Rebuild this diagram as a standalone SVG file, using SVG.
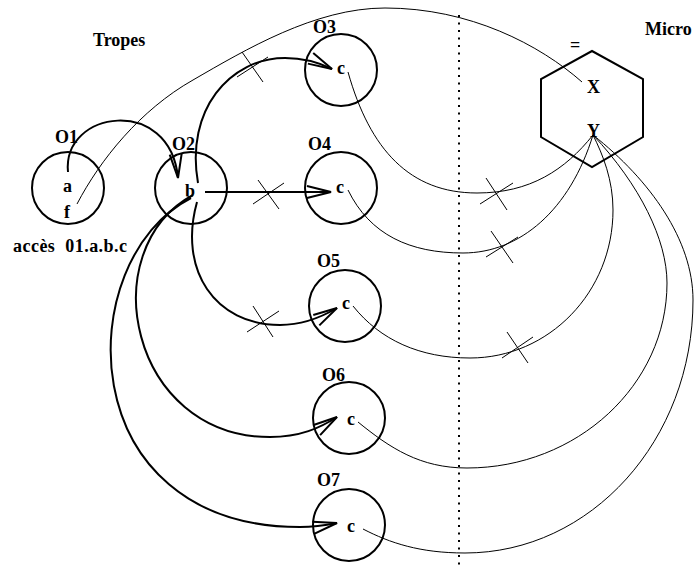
<svg xmlns="http://www.w3.org/2000/svg" width="694" height="567" viewBox="0 0 694 567">
<style>
text{font-family:"Liberation Serif","Times New Roman",serif;font-weight:bold;font-size:18px;fill:#000;white-space:pre}
.node{fill:none;stroke:#000;stroke-width:2}
.thick{fill:none;stroke:#000;stroke-width:2}
.thin{fill:none;stroke:#000;stroke-width:1}
.cross{fill:none;stroke:#000;stroke-width:1}
</style>
<defs>
<marker id="arr" markerUnits="userSpaceOnUse" viewBox="-28 -9 30 18" markerWidth="30" markerHeight="18" refX="0" refY="0" orient="auto">
<path d="M-24,-6 L0,0 L-24,6" fill="none" stroke="#000" stroke-width="2"/>
</marker>
</defs>
<rect width="694" height="567" fill="#fff"/>
<g id="labels">
<text x="93" y="46">Tropes</text>
<text x="645" y="35">Micro</text>
<text x="13" y="252" textLength="114">accès  01.a.b.c</text>
</g>
<g id="divider">
<line x1="459" y1="15" x2="459" y2="567" stroke="#000" stroke-width="2" stroke-dasharray="2 5.5"/>
</g>
<g id="O1"><circle class="node" cx="68" cy="188" r="36"/><text x="55" y="143">O1</text><text x="63" y="192">a</text><text x="64" y="218">f</text></g>
<g id="O2"><circle class="node" cx="191" cy="188" r="36"/><text x="172" y="150">O2</text><text x="185" y="197">b</text></g>
<g id="O3"><circle class="node" cx="341" cy="70" r="36"/><text x="313" y="33">O3</text><text x="337" y="74">c</text></g>
<g id="O4"><circle class="node" cx="341" cy="188" r="36"/><text x="308" y="150">O4</text><text x="336" y="193">c</text></g>
<g id="O5"><circle class="node" cx="345" cy="306" r="36"/><text x="317" y="267">O5</text><text x="342" y="309">c</text></g>
<g id="O6"><circle class="node" cx="349" cy="418" r="36"/><text x="322" y="381">O6</text><text x="347" y="425">c</text></g>
<g id="O7"><circle class="node" cx="349" cy="525" r="36"/><text x="317" y="486">O7</text><text x="347" y="532">c</text></g>
<g id="Micro">
<polygon class="node" points="592,51 643,79 643,137 592,167 541,137 541,79"/>
<text x="570" y="51">=</text>
<text x="587" y="93">X</text>
<text x="587" y="137">Y</text>
</g>
<g id="connectors">
<path class="thin" d="M77,204 C100,160 140,110 193,80 C245,50 315,8 385,8 C470,8 540,45 582,82"/>
<path class="thick" marker-end="url(#arr)" d="M68,172 C62,110 170,95 178,178"/>
<path class="thick" marker-end="url(#arr)" d="M198,183 C185,110 230,58 285,58 C305,58 320,63 332,69"/>
<path class="thick" marker-end="url(#arr)" d="M205,192 L331,192"/>
<path class="thick" marker-end="url(#arr)" d="M197,202 C178,270 215,325 280,325 C300,325 320,318 337,308"/>
<path class="thick" marker-end="url(#arr)" d="M193,195 C92,250 130,437 270,437 C300,437 320,428 337,417"/>
<path class="thick" marker-end="url(#arr)" d="M191,198 C70,260 70,527 300,527 C315,527 327,525 337,523"/>
<path class="thin" d="M348,72 C370,150 410,193 477,193 C530,193 565,170 593,135"/>
<path class="thin" d="M348,190 C370,235 410,253 463,253 C520,253 570,210 593,135"/>
<path class="thin" d="M353,306 C380,340 420,358 470,358 C549,358 613,292 613,210 C613,180 603,155 593,135"/>
<path class="thin" d="M358,422 C390,448 420,468 467,468 C577,468 667,385 667,283 C667,240 640,185 593,135"/>
<path class="thin" d="M363,529 C390,543 420,553 465,553 C591,553 693,440 693,300 C693,240 650,180 593,135"/>
<g id="crosses">
<path class="cross" d="M242,52 L263,82 M237,77 L268,57"/>
<path class="cross" d="M258,180 L279,209 M253,204 L284,183"/>
<path class="cross" d="M253,306 L273,337 M247,332 L279,311"/>
<path class="cross" d="M486,178 L507,210 M480,204 L513,183"/>
<path class="cross" d="M491,231 L513,263 M486,257 L518,237"/>
<path class="cross" d="M507,332 L528,363 M502,358 L533,337"/>
</g>
</g>
</svg>
